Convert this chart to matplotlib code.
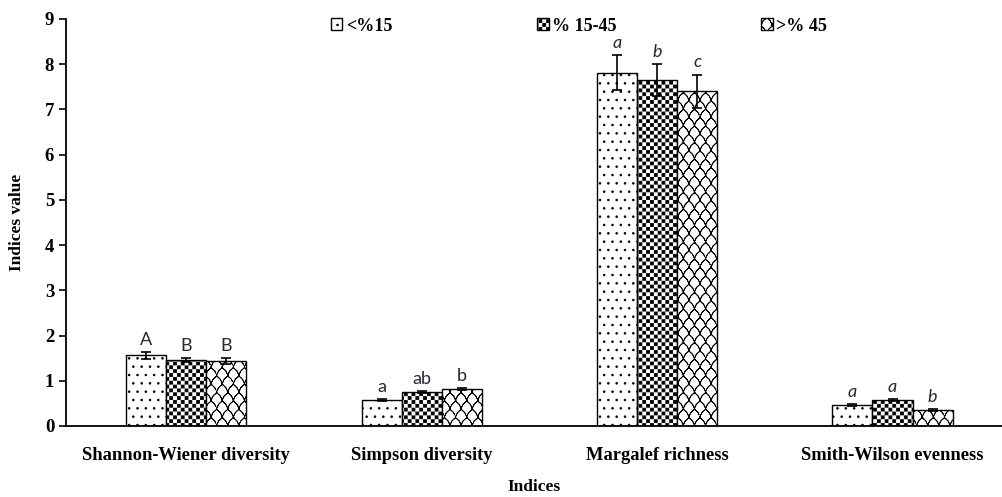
import numpy as np
import matplotlib
matplotlib.use('Agg')
import matplotlib.pyplot as plt
import matplotlib.hatch as mhatch
from matplotlib.path import Path
import warnings

warnings.filterwarnings('ignore')

# Datos
categorias = ['Shannon-Wiener diversity', 'Simpson diversity', 'Margalef richness', 'Smith-Wilson evenness']
grupos = ['<%15', '% 15-45', '>% 45']
bajo = [1.56, 0.57, 7.81, 0.47]
medio = [1.46, 0.75, 7.65, 0.57]
alto = [1.43, 0.81, 7.40, 0.36]
err_bajo = [0.07, 0.02, 0.39, 0.02]
err_medio = [0.05, 0.02, 0.36, 0.02]
err_alto = [0.07, 0.02, 0.37, 0.02]
letras_bajo = ['A', 'a', 'a', 'a']
letras_medio = ['B', 'ab', 'b', 'a']
letras_alto = ['B', 'b', 'c', 'b']
italica = [False, False, True, True]


# Patron de tablero de ajedrez ('c')
class Tablero(mhatch.HatchPatternBase):
    def __init__(self, hatch, density):
        self.n = 26 if 'c' in hatch else 0
        self.num_vertices = (self.n * self.n // 2) * 5

    def set_vertices_and_codes(self, vertices, codes):
        d = 1.0 / self.n
        e = 0.12 * d
        verts = []
        for i in range(self.n):
            for j in range(self.n):
                if (i + j) % 2 == 0:
                    x0, y0 = i * d + e, j * d + e
                    x1, y1 = (i + 1) * d - e, (j + 1) * d - e
                    verts += [(x0, y0), (x1, y0), (x1, y1), (x0, y1), (x0, y0)]
        vertices[:] = verts
        codes[:] = np.tile([Path.MOVETO, Path.LINETO, Path.LINETO, Path.LINETO, Path.CLOSEPOLY],
                           self.n * self.n // 2)


# Patron de escamas ('s')
class Escamas(mhatch.HatchPatternBase):
    filas = 12
    cols = 9
    m = 13

    def __init__(self, hatch, density):
        self.activo = 's' in hatch
        if self.activo:
            self.num_vertices = (self.filas + 1) * (self.cols + 2) * self.m * 2
        else:
            self.num_vertices = 0

    def set_vertices_and_codes(self, vertices, codes):
        w = 1.0 / self.cols
        h = 1.0 / self.filas
        t = np.linspace(0, 1, self.m)
        verts = []
        cods = []
        for r in range(self.filas + 1):
            desp = w / 2 if r % 2 else 0
            for k in range(-1, self.cols + 1):
                # arco redondeado con lado en S
                xs = desp + (k + t) * w + 0.18 * w * np.sin(2 * np.pi * t)
                ys = r * h + 0.95 * h * np.sqrt(np.clip(np.sin(np.pi * t), 0, 1))
                pts = list(zip(xs, ys))
                pts = pts + pts[::-1]
                verts += pts
                cods += [Path.MOVETO] + [Path.LINETO] * (len(pts) - 1)
        vertices[:] = verts
        codes[:] = cods


mhatch._hatch_types.append(Tablero)
mhatch._hatch_types.append(Escamas)

plt.rcParams['font.family'] = ['Liberation Serif', 'DejaVu Serif']
plt.rcParams['hatch.linewidth'] = 0.6
plt.rcParams['hatch.color'] = 'black'

fig = plt.figure(figsize=(10.02, 4.97), dpi=100)
ax = fig.add_axes([0.0659, 0.1429, 0.9341, 0.819])

x = np.arange(len(categorias))
ancho = 0.17
series = [(bajo, err_bajo, letras_bajo, '..'), (medio, err_medio, letras_medio, 'c'),
          (alto, err_alto, letras_alto, 's')]

for k, (vals, errs, letras, patron) in enumerate(series):
    pos = x + (k - 1) * ancho
    ax.bar(pos, vals, ancho, color='white', edgecolor='black', linewidth=1.0,
           hatch=patron, label=grupos[k], zorder=2)
    ax.errorbar(pos, vals, yerr=errs, fmt='none', ecolor='black', elinewidth=1.2,
                capsize=3.5, capthick=1.2, zorder=3)
    for i in range(len(categorias)):
        ax.annotate(letras[i], (pos[i], vals[i] + errs[i]), xytext=(0, 3),
                    textcoords='offset points', ha='center', va='bottom',
                    fontsize=13, color='#2a2530', family='Lato',
                    style='italic' if italica[i] else 'normal')

ax.set_xlim(-0.51, 3.465)
ax.set_ylim(0, 9)
ax.set_yticks(range(0, 10))
ax.set_xticks(x)
ax.set_xticklabels(categorias, fontsize=13.3, fontweight='bold')
ax.tick_params(axis='x', length=0, pad=15)
ax.tick_params(axis='y', length=5, width=1.2, labelsize=13.5, direction='out')
for lab in ax.get_yticklabels():
    lab.set_fontweight('bold')
ax.spines['top'].set_visible(False)
ax.spines['right'].set_visible(False)
ax.spines['left'].set_linewidth(1.3)
ax.spines['bottom'].set_linewidth(1.3)

ax.set_xlabel('Indices', fontsize=12.5, fontweight='bold', labelpad=11)
ax.set_ylabel('Indices value', fontsize=12.5, fontweight='bold', labelpad=14)

ax.legend(loc='upper center', bbox_to_anchor=(0.548, 1.043), ncol=3, frameon=False,
          prop={'weight': 'bold', 'size': 13}, handlelength=0.65, handleheight=0.65,
          handletextpad=0.2, columnspacing=8.0)

plt.savefig('out.png', dpi=100)
